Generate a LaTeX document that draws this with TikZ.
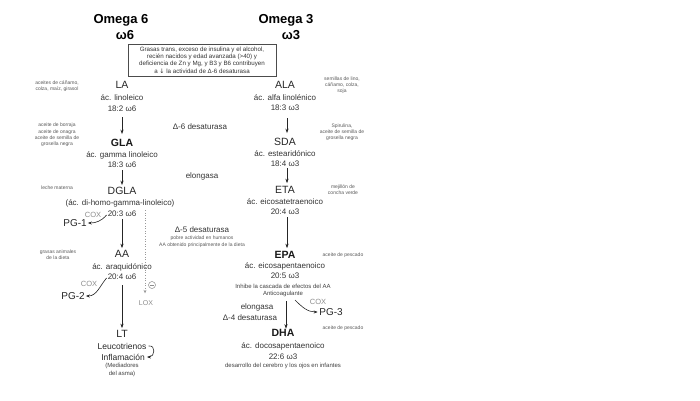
\documentclass[tikz,border=0pt]{standalone}
\usepackage{fontspec}
\setmainfont{Liberation Sans}
\newfontfamily\djv{DejaVu Sans}
\usetikzlibrary{arrows.meta}
\tikzset{
  big/.style={font=\fontsize{10.5}{12}\selectfont, inner sep=0pt, text=black!85},
  bigb/.style={font=\bfseries\fontsize{10.5}{12}\selectfont, inner sep=0pt, text=black!90},
  ttl/.style={font=\bfseries\fontsize{13}{15}\selectfont, inner sep=0pt},
  desc/.style={font=\fontsize{8}{9}\selectfont, inner sep=0pt, text=black!80},
  note/.style={font=\fontsize{6}{7}\selectfont, inner sep=0pt, text=black!75},
  srcl/.style={font=\fontsize{5}{6.2}\selectfont, align=center, inner sep=0pt, text=black!65},
  coxl/.style={font=\fontsize{7.5}{8}\selectfont, inner sep=0pt, text=black!45},
  arr/.style={-{Stealth[length=4.5pt,width=3.2pt]}, line width=0.7pt, black!85},
  curv/.style={-{Stealth[length=4pt,width=3pt]}, line width=0.6pt, black!85},
}
\begin{document}
\begin{tikzpicture}[x=1pt,y=-1pt]
\useasboundingbox (0,0) rectangle (700,400);

% titles
\node[ttl] (om6) at (121,20) {Omega 6};
\node[ttl] (w6) at (125,35) {ω6};
\node[ttl] (om3) at (286,20) {Omega 3};
\node[ttl] (w3) at (291,35) {ω3};

% box
\node[draw=black!70, line width=0.6pt, minimum width=148pt, minimum height=32pt,
      align=center, font=\fontsize{6.2}{7.4}\selectfont, inner sep=1pt, text=black!80] (box) at (202,60)
 {Grasas trans, exceso de insulina y el alcohol,\\recién nacidos y edad avanzada (>40) y\\deficiencia de Zn y Mg, y B3 y B6 contribuyen\\a {\djv ↓} la actividad de Δ-6 desaturasa};

% left column
\node[big] (la1) at (122,85) {LA};
\node[desc] (la2) at (122,98) {ác. linoleico};
\node[desc] (la3) at (122,109) {18:2 ω6};
\node[bigb] (gla1) at (122,143) {GLA};
\node[desc] (gla2) at (122,155) {ác. gamma linoleico};
\node[desc] (gla3) at (122,165) {18:3 ω6};
\node[big] (dgla1) at (122,191) {DGLA};
\node[desc] (dgla2) at (120,203) {(ác. di-homo-gamma-linoleico)};
\node[desc] (dgla3) at (122,214) {20:3 ω6};
\node[big] (aa1) at (122,254) {AA};
\node[desc] (aa2) at (122,267) {ác. araquidónico};
\node[desc] (aa3) at (122,277) {20:4 ω6};
\node[big] (lt1) at (122,334) {LT};
\node[font=\fontsize{8.5}{9}\selectfont, inner sep=0pt, text=black!85] (lt2) at (122,346) {Leucotrienos};
\node[font=\fontsize{8.5}{9}\selectfont, inner sep=0pt, text=black!85] (lt3) at (123,357) {Inflamación};
\node[note] (lt4) at (122,366) {(Mediadores};
\node[note] (lt5) at (122,374) {del asma)};

% right column
\node[big] (ala1) at (285,85) {ALA};
\node[desc] (ala2) at (285,98) {ác. alfa linolénico};
\node[desc] (ala3) at (285,108) {18:3 ω3};
\node[big] (sda1) at (285,142) {SDA};
\node[desc] (sda2) at (285,154) {ác. estearidónico};
\node[desc] (sda3) at (285,164) {18:4 ω3};
\node[big] (eta1) at (285,190) {ETA};
\node[desc] (eta2) at (285,202) {ác. eicosatetraenoico};
\node[desc] (eta3) at (285,212) {20:4 ω3};
\node[bigb] (epa1) at (285,255) {EPA};
\node[desc] (epa2) at (285,266) {ác. eicosapentaenoico};
\node[desc] (epa3) at (285,276) {20:5 ω3};
\node[note] (inh) at (283,286) {Inhibe la cascada de efectos del AA};
\node[note] (anti) at (283,294) {Anticoagulante};
\node[bigb] (dha1) at (283,333) {DHA};
\node[desc] (dha2) at (283,346) {ác. docosapentaenoico};
\node[desc] (dha3) at (283,357) {22:6 ω3};
\node[note] (dev) at (283,366) {desarrollo del cerebro y los ojos en infantes};

% enzymes
\node[desc] (d6) at (200,127) {Δ-6 desaturasa};
\node[desc] (el1) at (202,176) {elongasa};
\node[desc] (d5) at (202,230) {Δ-5 desaturasa};
\node[srcl] (d5a) at (202,238) {pobre actividad en humanos};
\node[srcl] (d5b) at (202,245) {AA obtenido principalmente de la dieta};
\node[desc] (el2) at (257,307) {elongasa};
\node[desc] (d4) at (250,318) {Δ-4 desaturasa};

% sources
\node[srcl] (s1) at (57,86) {aceites de cáñamo,\\colza, maíz, girasol};
\node[srcl] (s2) at (57,135) {aceite de borraja\\aceite de onagra\\aceite de semilla de\\grosella negra};
\node[srcl] (s3) at (57,188) {leche materna};
\node[srcl] (s4) at (58,255) {grasas animales\\de la dieta};
\node[srcl] (s5) at (342,85) {semillas de lino,\\cáñamo, colza,\\soja};
\node[srcl] (s6) at (342,132) {Spirulina,\\aceite de semilla de\\grosella negra};
\node[srcl] (s7) at (343,190) {mejillón de\\concha verde};
\node[srcl] (s8) at (343,255) {aceite de pescado};
\node[srcl] (s9) at (343,328) {aceite de pescado};

% prostaglandins
\node[font=\fontsize{10}{11}\selectfont, inner sep=0pt, text=black!85] (pg1) at (75,223) {PG-1};
\node[coxl] (cox1) at (93,215) {COX};
\node[font=\fontsize{10}{11}\selectfont, inner sep=0pt, text=black!85] (pg2) at (73,296) {PG-2};
\node[coxl] (cox2) at (89,284) {COX};
\node[font=\fontsize{10}{11}\selectfont, inner sep=0pt, text=black!85] (pg3) at (331,312) {PG-3};
\node[coxl] (cox3) at (318,302) {COX};
\node[font=\fontsize{7}{8}\selectfont, inner sep=0pt, text=black!45] (lox) at (146,303) {LOX};
\node[circle, draw=black!45, line width=0.5pt, minimum size=7pt, inner sep=0pt] (minus) at (152,285) {};
\draw[black!45, line width=0.6pt] ([xshift=1.6pt]minus.west) -- ([xshift=-1.6pt]minus.east);
\coordinate (dtop) at (145,210);

% main arrows
\draw[arr, shorten <=5pt, shorten >=5pt] (la3) -- (gla1);
\draw[arr, shorten <=2pt, shorten >=2pt] (gla3) -- (dgla1);
\draw[arr, shorten <=2pt, shorten >=2pt] (dgla3) -- (aa1);
\draw[arr, shorten <=5pt, shorten >=2pt] (aa3) -- (lt1);
\draw[arr, shorten <=7pt, shorten >=5pt] (ala3.south -| 287,0) -- (sda1.north -| 287,0);
\draw[arr, shorten <=1pt, shorten >=3pt] (sda3.south -| 287,0) -- (eta1.north -| 287,0);
\draw[arr, shorten <=2pt, shorten >=3pt] (eta3.south -| 287,0) -- (epa1.north -| 287,0);
\draw[arr, shorten <=4pt, shorten >=0.5pt] (anti.south -| 286,0) -- (dha1.north -| 286,0);

% curved arrows
\draw[curv] ([xshift=-1pt,yshift=-1pt]dgla3.west) to[out=-130,in=0] ([xshift=1pt]pg1.east);
\draw[curv] ([xshift=-1pt,yshift=-1pt]aa3.west) to[out=-130,in=0] ([xshift=1pt]pg2.east);
\draw[curv] ([xshift=12pt,yshift=-3pt]anti.south) to[out=-45,in=180] ([xshift=-1.5pt]pg3.west);
\draw[curv] ([xshift=2pt]lt2.east) to[out=10,in=0,looseness=1.8] ([xshift=2pt]lt3.east);

% dotted LOX path
\draw[black!40, line width=0.6pt, dotted, -{Stealth[length=3.5pt,width=3pt]}] (dtop) -- ([yshift=7pt]lox.north -| dtop);
\end{tikzpicture}
\end{document}
